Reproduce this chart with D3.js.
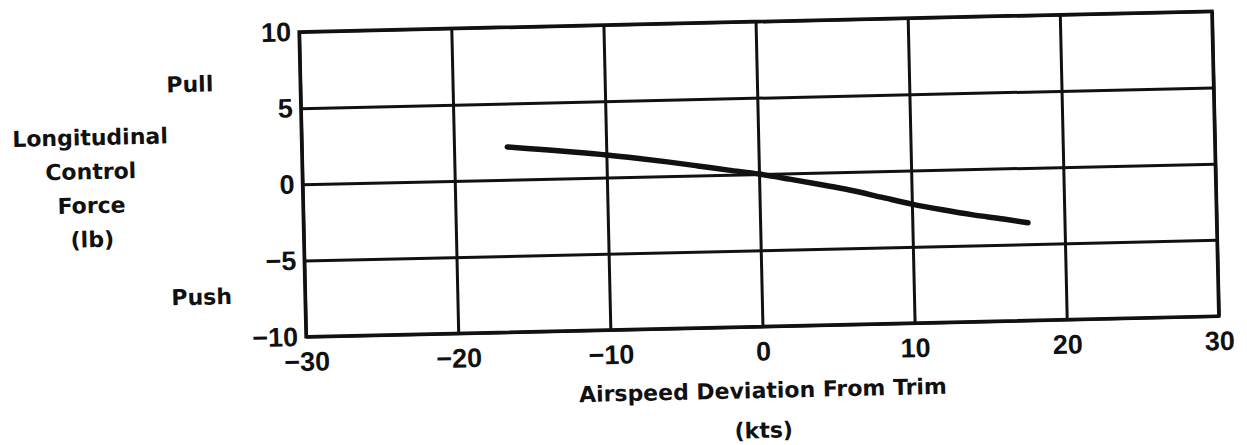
<!DOCTYPE html>
<html>
<head>
<meta charset="utf-8">
<script src="https://cdn.jsdelivr.net/npm/d3@7"></script>
<style>
  html, body { margin: 0; padding: 0; background: #ffffff; }
  svg { display: block; }
</style>
</head>
<body>
<svg id="chart" width="1247" height="445"></svg>
<script>
// ---- data ----
const xTicks = [-30, -20, -10, 0, 10, 20, 30];
const yTicks = [-10, -5, 0, 5, 10];
const airspeed = [-16.5, -14, -12, -10, -8, -6, -4, -2, 0, 2, 4, 6, 8, 10, 12, 14, 16, 17.6];
const force    = [2.15, 1.9, 1.7, 1.48, 1.22, 0.93, 0.62, 0.3, 0.0, -0.38, -0.78, -1.2, -1.7, -2.2, -2.62, -3.0, -3.32, -3.6];
const yTitleLines = ["Longitudinal", "Control", "Force", "(lb)"];
const xTitleLines = ["Airspeed Deviation From Trim", "(kts)"];
const pullLabel = "Pull";
const pushLabel = "Push";

// ---- layout ----
const plotLeft = 302.5, plotRight = 1215.5, plotTop = 21.5, plotBottom = 326.5;
const ink = "#111";
const titleFont = "'DejaVu Sans', sans-serif";
const tickFont = "'Liberation Sans', Arial, sans-serif";

const svg = d3.select("#chart");
svg.append("rect").attr("width", 1247).attr("height", 445).attr("fill", "#ffffff");

// the scanned chart is slightly rotated
const g = svg.append("g").attr("transform", "rotate(-1.3,759,174)");

const x = d3.scaleLinear().domain([-30, 30]).range([plotLeft, plotRight]);
const y = d3.scaleLinear().domain([-10, 10]).range([plotBottom, plotTop]);

// x axis with gridlines
const xAxis = g.append("g")
  .attr("transform", `translate(0,${y(-10)})`)
  .call(d3.axisBottom(x).tickValues(xTicks).tickSize(-(plotBottom - plotTop)).tickPadding(15));
xAxis.select(".domain").remove();
xAxis.selectAll(".tick line").attr("stroke", ink).attr("stroke-width", 3);
xAxis.selectAll(".tick text")
  .attr("fill", ink)
  .style("font-family", tickFont)
  .style("font-weight", "bold")
  .style("font-size", "27px");

// y axis with gridlines
const yAxis = g.append("g")
  .attr("transform", `translate(${x(-30)},0)`)
  .call(d3.axisLeft(y).tickValues(yTicks).tickSize(-(plotRight - plotLeft)).tickPadding(8));
yAxis.select(".domain").remove();
yAxis.selectAll(".tick line").attr("stroke", ink).attr("stroke-width", 3);
yAxis.selectAll(".tick text")
  .attr("fill", ink)
  .style("font-family", tickFont)
  .style("font-weight", "bold")
  .style("font-size", "27px");

// frame
g.append("rect")
  .attr("x", x(-30)).attr("y", y(10))
  .attr("width", x(30) - x(-30)).attr("height", y(-10) - y(10))
  .attr("fill", "none").attr("stroke", ink).attr("stroke-width", 3.5);

// curve
const pts = airspeed.map((a, i) => [a, force[i]]);
g.append("path")
  .datum(pts)
  .attr("d", d3.line().x(d => x(d[0])).y(d => y(d[1])).curve(d3.curveMonotoneX))
  .attr("fill", "none")
  .attr("stroke", ink)
  .attr("stroke-width", 5.5)
  .attr("stroke-linecap", "round")
  .attr("stroke-linejoin", "round");

// titles
const textStyle = sel => sel
  .attr("fill", ink)
  .style("font-family", titleFont)
  .style("font-weight", "bold")
  .style("font-size", "22px");

g.selectAll("text.ytitle")
  .data(yTitleLines)
  .join("text")
  .attr("class", "ytitle")
  .attr("x", 91)
  .attr("y", (d, i) => 130 + i * 34)
  .attr("text-anchor", "middle")
  .text(d => d)
  .call(textStyle);

g.selectAll("text.xtitle")
  .data(xTitleLines)
  .join("text")
  .attr("class", "xtitle")
  .attr("x", 758)
  .attr("y", (d, i) => 398 + i * 40)
  .attr("text-anchor", "middle")
  .text(d => d)
  .call(textStyle);

g.append("text").attr("x", 192).attr("y", 79).attr("text-anchor", "middle").text(pullLabel).call(textStyle);
g.append("text").attr("x", 199).attr("y", 292).attr("text-anchor", "middle").text(pushLabel).call(textStyle);
</script>
</body>
</html>
